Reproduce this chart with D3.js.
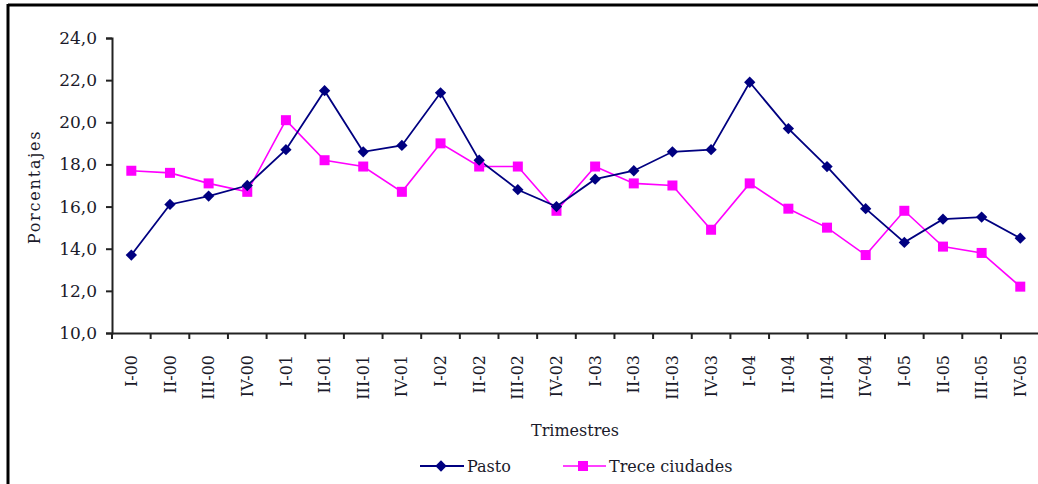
<!DOCTYPE html>
<html>
<head>
<meta charset="utf-8">
<script src="https://cdn.jsdelivr.net/npm/d3@7"></script>
<style>
  html, body { margin: 0; padding: 0; background: #fff; }
  svg { display: block; }
  text { font-family: "DejaVu Serif", "Liberation Serif", serif; fill: #1a1a2a; }
</style>
</head>
<body>
<svg id="chart" width="1038" height="484"></svg>
<script>
const categories = ["I-00","II-00","III-00","IV-00","I-01","II-01","III-01","IV-01","I-02","II-02","III-02","IV-02","I-03","II-03","III-03","IV-03","I-04","II-04","III-04","IV-04","I-05","II-05","III-05","IV-05"];
const pasto = [13.7,16.1,16.5,17.0,18.7,21.5,18.6,18.9,21.4,18.2,16.8,16.0,17.3,17.7,18.6,18.7,21.9,19.7,17.9,15.9,14.3,15.4,15.5,14.5];
const trece = [17.7,17.6,17.1,16.7,20.1,18.2,17.9,16.7,19.0,17.9,17.9,15.8,17.9,17.1,17.0,14.9,17.1,15.9,15.0,13.7,15.8,14.1,13.8,12.2];
const yTicks = [10,12,14,16,18,20,22,24];
const seriesNames = ["Pasto","Trece ciudades"];

const svg = d3.select("#chart");

// frame
svg.append("line").attr("x1",8).attr("x2",1038).attr("y1",5).attr("y2",5).attr("stroke","#000").attr("stroke-width",3);
svg.append("line").attr("x1",8).attr("x2",8).attr("y1",4).attr("y2",484).attr("stroke","#000").attr("stroke-width",3);

const mLeft = 112, mRight = 1039.6, mTop = 38, mBottom = 333;
const x = d3.scaleBand().domain(categories).range([mLeft, mRight]).padding(0);
const y = d3.scaleLinear().domain([10, 24]).range([mBottom, mTop]);
const fmt = v => d3.format(".1f")(v).replace(".", ",");

// y axis
const yAxis = svg.append("g").attr("transform", `translate(${mLeft},0)`)
  .call(d3.axisLeft(y).tickValues(yTicks).tickFormat(fmt).tickSize(6).tickPadding(9));
yAxis.select(".domain").attr("stroke","#222").attr("stroke-width",2);
yAxis.selectAll(".tick line").attr("stroke","#222").attr("stroke-width",2);
yAxis.selectAll("text").style("font-size","17px").attr("fill","#1a1a2a").attr("font-family","DejaVu Serif");

// x axis
const xAxis = svg.append("g").attr("transform", `translate(0,${mBottom})`)
  .call(d3.axisBottom(x).tickSize(0).tickPadding(0));
xAxis.select(".domain").attr("stroke","#222").attr("stroke-width",2);
xAxis.selectAll(".tick text")
  .style("font-size","16px").attr("font-family","DejaVu Serif").attr("fill","#1a1a2a")
  .attr("text-anchor","end")
  .attr("transform","rotate(-90)")
  .attr("x",-22).attr("y",0).attr("dy","0.35em");
// boundary ticks
svg.append("g").selectAll("line").data(categories).join("line")
  .attr("x1", d => x(d)).attr("x2", d => x(d))
  .attr("y1", mBottom).attr("y2", mBottom + 6)
  .attr("stroke","#222").attr("stroke-width",2);

// axis titles
svg.append("text").attr("transform","translate(40,187) rotate(-90)")
  .attr("text-anchor","middle").style("font-size","16px").style("letter-spacing","1.8px").text("Porcentajes");
svg.append("text").attr("x",575).attr("y",436)
  .attr("text-anchor","middle").style("font-size","16px").text("Trimestres");

const cx = d => x(d) + x.bandwidth()/2;
const line = d3.line().x((d,i) => cx(categories[i])).y(d => y(d));

// Trece ciudades
svg.append("path").datum(trece).attr("d", line).attr("fill","none").attr("stroke","#ff00ff").attr("stroke-width",1.6);
// Pasto
svg.append("path").datum(pasto).attr("d", line).attr("fill","none").attr("stroke","#000080").attr("stroke-width",1.8);

svg.append("g").selectAll("rect").data(trece).join("rect")
  .attr("x",(d,i)=>cx(categories[i])-5).attr("y",d=>y(d)-5).attr("width",10).attr("height",10).attr("fill","#ff00ff");
svg.append("g").selectAll("path").data(pasto).join("path")
  .attr("d", d3.symbol().type(d3.symbolSquare).size(64))
  .attr("transform",(d,i)=>`translate(${cx(categories[i])},${y(d)}) rotate(45)`)
  .attr("fill","#000080");

// legend
const lg = svg.append("g");
lg.append("line").attr("x1",420).attr("x2",464).attr("y1",466).attr("y2",466).attr("stroke","#000080").attr("stroke-width",1.8);
lg.append("path").attr("d", d3.symbol().type(d3.symbolSquare).size(64)).attr("transform","translate(441,466) rotate(45)").attr("fill","#000080");
lg.append("text").attr("x",467).attr("y",472).style("font-size","16px").text(seriesNames[0]);
lg.append("line").attr("x1",563).attr("x2",606).attr("y1",466).attr("y2",466).attr("stroke","#ff00ff").attr("stroke-width",1.6);
lg.append("rect").attr("x",578).attr("y",461).attr("width",10).attr("height",10).attr("fill","#ff00ff");
lg.append("text").attr("x",609).attr("y",472).style("font-size","16px").text(seriesNames[1]);
</script>
</body>
</html>
